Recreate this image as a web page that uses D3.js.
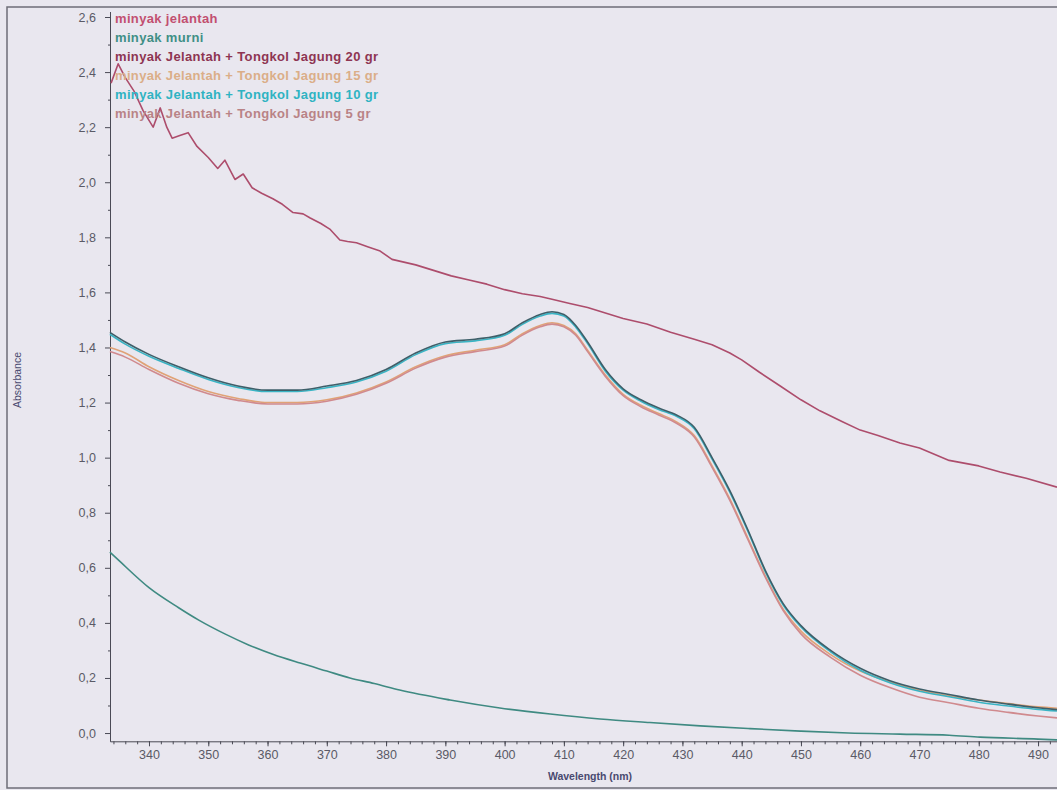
<!DOCTYPE html>
<html>
<head>
<meta charset="utf-8">
<script src="https://cdn.jsdelivr.net/npm/d3@7"></script>
<style>
  body { margin: 0; background: #e9e7ef; }
  .axis text { font-family: "Liberation Sans", Arial, sans-serif; font-size: 12.5px; fill: #5a5a66; }
  .axis path, .axis line { stroke: #4a4a55; }
  .axis-title { font-family: "Liberation Sans", Arial, sans-serif; font-size: 10.5px; fill: #4a4a70; }
  .legend text { font-family: "Liberation Sans", Arial, sans-serif; font-size: 13px; font-weight: bold; letter-spacing: 0.35px; }
</style>
</head>
<body>
<div id="chart"></div>
<script>
// series names (legend order)
var seriesNames = [
  "minyak jelantah",
  "minyak murni",
  "minyak Jelantah + Tongkol Jagung 20 gr",
  "minyak Jelantah + Tongkol Jagung 15 gr",
  "minyak Jelantah + Tongkol Jagung 10 gr",
  "minyak Jelantah + Tongkol Jagung 5 gr"
];

// minyak jelantah
var wlJelantah = [333.6,334.8,336,337.5,339,340.7,341.9,343,343.9,345.2,346.6,348.1,350,351.6,352.8,354.5,355.9,357.4,359,360.9,362.5,364.3,366,367.2,369,370.5,372.2,373.5,375,377,379,381,383,385,388,391,394,397,400,403,406,408,411,414,417,420,424,428,432,435,438,440,443,446.5,450,453.2,457,460,463,466.7,470,475,480,483.6,488,493.2];
var absJelantah = [2.36,2.43,2.38,2.33,2.26,2.20,2.27,2.20,2.16,2.17,2.18,2.13,2.09,2.05,2.08,2.01,2.03,1.98,1.96,1.94,1.92,1.89,1.885,1.87,1.85,1.83,1.79,1.785,1.78,1.765,1.75,1.72,1.71,1.70,1.68,1.66,1.645,1.63,1.61,1.595,1.585,1.575,1.56,1.545,1.525,1.505,1.485,1.455,1.43,1.41,1.38,1.355,1.31,1.26,1.21,1.17,1.13,1.10,1.08,1.053,1.035,0.99,0.97,0.948,0.925,0.893];

// minyak murni
var wlMurni = [333.4,335,340,345,348.4,352.8,356.8,361,365.5,370,373.9,378,382.3,390.8,399.2,407.7,416.1,424.5,433,441.4,449.9,458,466.7,475,480.2,490,493.2];
var absMurni = [0.657,0.625,0.528,0.455,0.41,0.36,0.32,0.285,0.254,0.225,0.20,0.18,0.156,0.12,0.091,0.069,0.051,0.038,0.026,0.016,0.007,0.0,-0.004,-0.008,-0.015,-0.022,-0.025];

// treated samples share one wavelength grid
var wlTreated = [333.4,336,340,345,350,355,360,365,370,375,380,385,390,395,400,403,406,408,410,412,414,417,420,423,426,429,432,435,438,441,444,447,450,455,460,465,470,475,480,485,490,493.2];
var abs20 = [1.455,1.42,1.375,1.33,1.29,1.26,1.245,1.245,1.26,1.28,1.32,1.38,1.42,1.43,1.45,1.49,1.52,1.53,1.52,1.48,1.42,1.32,1.25,1.21,1.18,1.155,1.11,1.00,0.88,0.74,0.59,0.47,0.39,0.30,0.235,0.19,0.16,0.14,0.12,0.105,0.092,0.085];
var abs15 = [1.40,1.38,1.33,1.28,1.24,1.215,1.20,1.20,1.21,1.235,1.275,1.33,1.37,1.39,1.41,1.45,1.48,1.49,1.48,1.45,1.39,1.30,1.23,1.19,1.16,1.13,1.08,0.97,0.85,0.71,0.57,0.45,0.37,0.285,0.225,0.185,0.155,0.135,0.12,0.107,0.095,0.09];
var abs10 = [1.448,1.412,1.368,1.324,1.284,1.255,1.240,1.240,1.254,1.275,1.314,1.374,1.414,1.424,1.444,1.484,1.514,1.524,1.514,1.474,1.414,1.314,1.245,1.205,1.175,1.15,1.105,0.995,0.875,0.735,0.585,0.465,0.385,0.295,0.228,0.183,0.152,0.132,0.112,0.098,0.086,0.08];
var abs5 = [1.385,1.365,1.32,1.27,1.232,1.208,1.195,1.195,1.205,1.23,1.27,1.325,1.365,1.385,1.405,1.445,1.475,1.485,1.475,1.445,1.385,1.295,1.225,1.185,1.155,1.125,1.075,0.965,0.845,0.705,0.565,0.445,0.36,0.275,0.21,0.165,0.13,0.11,0.09,0.075,0.062,0.055];

var xTicks = [340,350,360,370,380,390,400,410,420,430,440,450,460,470,480,490];
var yTicks = [0.0,0.2,0.4,0.6,0.8,1.0,1.2,1.4,1.6,1.8,2.0,2.2,2.4,2.6];

var lineColors = ["#ad4d6c", "#3f8a82", "#3e5f69", "#e0a276", "#3ab4c4", "#d08a8e"];
var legendColors = ["#c24f70", "#3f8f86", "#8e3552", "#dbae88", "#2fb3c2", "#b98386"];

var viewboxwidth = 1057, viewboxheight = 790;
var plot = {left: 110, right: 1057, top: 11.5, bottom: 741.3};

var svg = d3.select("#chart")
    .append("svg")
    .attr("width", viewboxwidth)
    .attr("height", viewboxheight)
    .attr("viewBox", "0 0 " + viewboxwidth + " " + viewboxheight);

svg.append("rect")
    .attr("width", viewboxwidth).attr("height", viewboxheight)
    .style("fill", "#e9e7ef");

// outer frame
svg.append("rect")
    .attr("x", 7).attr("y", 7)
    .attr("width", viewboxwidth).attr("height", 781)
    .style("fill", "none").style("stroke", "#6e6e78").style("stroke-width", 1.5);

var x = d3.scaleLinear()
    .domain([333.42, 493.2])
    .range([plot.left, plot.right]);

var y = d3.scaleLinear()
    .domain([-0.03, 2.62])
    .range([plot.bottom, plot.top]);

var fmt = function(d){ return d3.format(".1f")(d).replace(".", ","); };

// minor ticks
svg.append("g")
    .attr("class", "axis")
    .attr("transform", "translate(0," + plot.bottom + ")")
    .call(d3.axisBottom(x).tickValues(d3.range(334, 494, 2)).tickSize(3).tickFormat(""))
    .select(".domain").remove();

svg.append("g")
    .attr("class", "axis")
    .attr("transform", "translate(" + plot.left + ",0)")
    .call(d3.axisLeft(y).tickValues(d3.range(0.1, 2.6, 0.2)).tickSize(2).tickFormat(""))
    .select(".domain").remove();

// major axes
svg.append("g")
    .attr("class", "axis")
    .attr("transform", "translate(0," + plot.bottom + ")")
    .call(d3.axisBottom(x).tickValues(xTicks).tickSize(5).tickSizeOuter(0).tickPadding(4));

svg.append("g")
    .attr("class", "axis")
    .attr("transform", "translate(" + plot.left + ",0)")
    .call(d3.axisLeft(y).tickValues(yTicks).tickFormat(fmt).tickSize(5).tickSizeOuter(0).tickPadding(9));

svg.append("text")
    .attr("class", "axis-title")
    .attr("x", 590).attr("y", 780)
    .style("text-anchor", "middle")
    .style("font-weight", "bold")
    .text("Wavelength (nm)");

svg.append("text")
    .attr("class", "axis-title")
    .attr("transform", "translate(21,380) rotate(-90)")
    .style("text-anchor", "middle")
    .text("Absorbance");

// lines
var seriesData = [
  [wlJelantah, absJelantah],
  [wlMurni, absMurni],
  [wlTreated, abs20],
  [wlTreated, abs15],
  [wlTreated, abs10],
  [wlTreated, abs5]
];

var lineRaw = d3.line()
    .x(function(d){ return x(d[0]); })
    .y(function(d){ return y(d[1]); });

var lineSmooth = d3.line()
    .curve(d3.curveMonotoneX)
    .x(function(d){ return x(d[0]); })
    .y(function(d){ return y(d[1]); });

var drawOrder = [1, 3, 5, 4, 2, 0];
svg.append("g")
    .selectAll("path")
    .data(drawOrder)
    .enter()
    .append("path")
    .attr("d", function(i){
        var pts = d3.zip(seriesData[i][0], seriesData[i][1]);
        return i === 0 ? lineRaw(pts) : lineSmooth(pts);
    })
    .style("fill", "none")
    .style("stroke", function(i){ return lineColors[i]; })
    .style("stroke-width", 1.6)
    .style("stroke-linejoin", "round");

// legend
svg.append("g")
    .attr("class", "legend")
    .selectAll("text")
    .data(seriesNames)
    .enter()
    .append("text")
    .attr("x", 115)
    .attr("y", function(d, i){ return 23 + i * 19; })
    .style("fill", function(d, i){ return legendColors[i]; })
    .text(function(d){ return d; });
</script>
</body>
</html>
